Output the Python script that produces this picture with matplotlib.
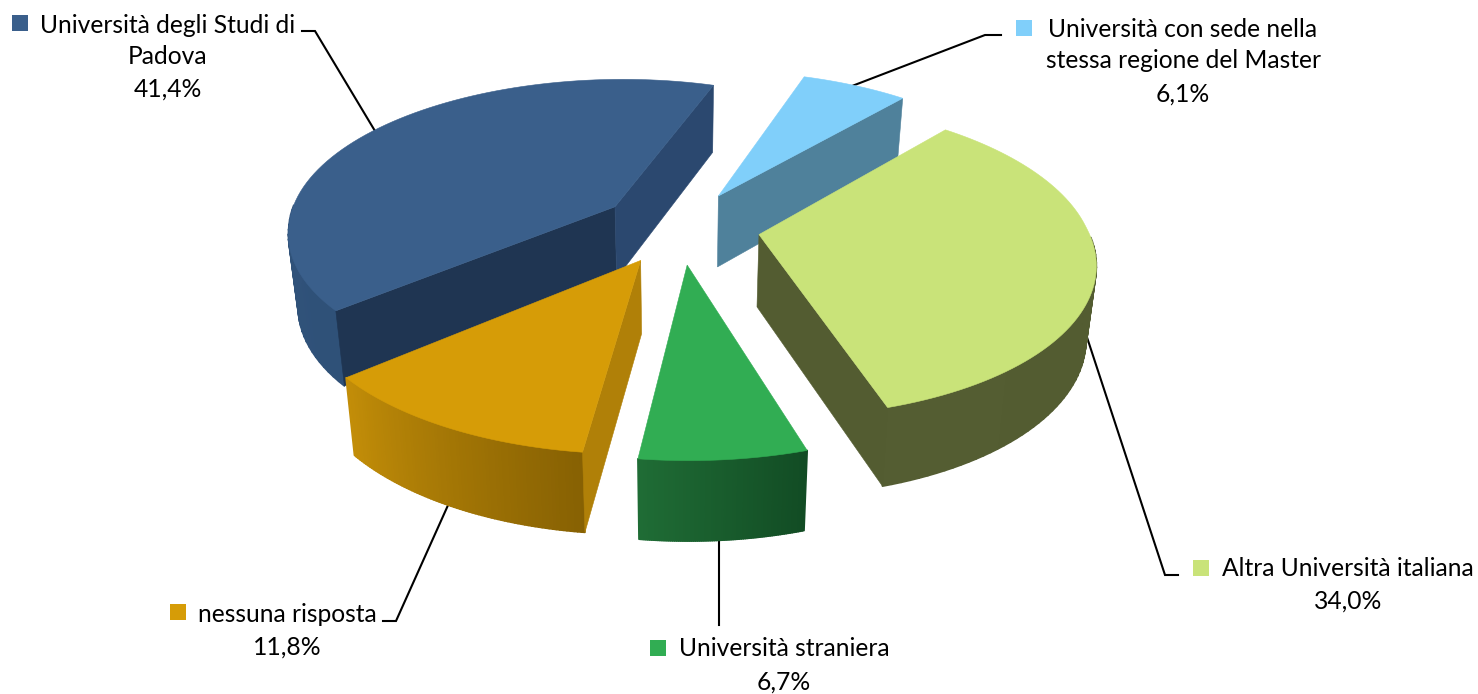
import numpy as np
import matplotlib
matplotlib.use("Agg")
import matplotlib.pyplot as plt
from matplotlib.collections import PolyCollection
from matplotlib.colors import to_rgb
from matplotlib.patches import Polygon, Rectangle

# ==== data ====
categories = ["Università degli Studi di\nPadova",
              "Università con sede nella\nstessa regione del Master",
              "Altra Università italiana",
              "Università straniera",
              "nessuna risposta"]
values = [41.4, 6.1, 34.0, 6.7, 11.8]

# ==== colours: top, start face, end face, outer side left/right ====
top_colors = ["#3A5F8B", "#80CFFA", "#C9E379", "#31AD53", "#D69C07"]
start_face = ["#1F3552", "#4F819B", "#535C31", "#1B6531", "#B08008"]
end_face = ["#2B486F", "#4F819B", "#535C31", "#1B6531", "#B08008"]
side_a = ["#2F5178", "#4F819B", "#515A2F", "#124C24", "#876103"]
side_b = ["#35567F", "#4F819B", "#545D32", "#1F6C35", "#C28D08"]

# ==== pie geometry (pixels) ====
CX, CY = 680, 227
R = 328
KY = 0.459       # tilt
PERSP_FAR = 0.14
PERSP_NEAR = 0.16
EXPLODE = 0.244
DEPTH = 72
BOTTOM_SCALE = 0.975
START_ANGLE = 229.6  # clockwise from the top, degrees


def project(dx, dy):
    # dx, dy: disk coordinates, dy > 0 is away from the viewer
    s = 1.0 / (1.0 + (PERSP_FAR if dy > 0 else PERSP_NEAR) * dy)
    return CX + R * dx * s, CY - R * KY * dy * s, s


def lower(x, y, s):
    return CX + (x - CX) * BOTTOM_SCALE, y + DEPTH * np.sqrt(s)


def blend(c1, c2, t):
    a, b = np.array(to_rgb(c1)), np.array(to_rgb(c2))
    return tuple(a + (b - a) * t)


def draw_slice(ax, a0, a1, i):
    mid = np.radians((a0 + a1) / 2)
    ox, oy = EXPLODE * np.sin(mid), EXPLODE * np.cos(mid)

    th = np.radians(np.linspace(a0, a1, 81))
    rim = [project(ox + np.sin(t), oy + np.cos(t)) for t in th]
    ax0, ay0, as0 = project(ox, oy)
    rim_low = [lower(*p) for p in rim]
    apex_low = lower(ax0, ay0, as0)

    # outer side, gradient along the arc (back part is hidden anyway)
    quads, cols = [], []
    for k in range(len(rim) - 1):
        if np.cos(th[k]) > 0:
            continue
        quads.append([rim[k][:2], rim[k + 1][:2], rim_low[k + 1], rim_low[k]])
        cols.append(blend(side_a[i], side_b[i], k / (len(rim) - 2)))
    if quads:
        ax.add_collection(PolyCollection(quads, facecolors=cols, edgecolors=cols, linewidths=1.2, zorder=2 + i * 0.01))

    # cut faces, only those turned to the viewer
    mx, my = rim[len(rim) // 2][:2]
    for k, col in ((0, start_face[i]), (-1, end_face[i])):
        px, py = rim[k][:2]
        ex, ey = px - ax0, py - ay0
        cross = ex * (my - ay0) - ey * (mx - ax0)
        if cross * ex < 0:
            ax.add_patch(Polygon([(ax0, ay0), (px, py), rim_low[k], apex_low],
                                 facecolor=col, edgecolor=col, linewidth=0.4, zorder=2.002 + i * 0.01))

    # top
    pts = [(ax0, ay0)] + [p[:2] for p in rim]
    ax.add_patch(Polygon(pts, facecolor=top_colors[i], edgecolor=top_colors[i], linewidth=0.4, zorder=2.005 + i * 0.01))


fig = plt.figure(figsize=(14.78, 6.94), dpi=100)
ax = fig.add_axes([0, 0, 1, 1])
ax.set_xlim(0, 1478)
ax.set_ylim(694, 0)
ax.axis("off")

# ==== leader lines ====
leaders = [[(375, 131), (315, 31), (302, 31)],
           [(852, 86), (985, 35), (1001, 35)],
           [(1080, 316), (1165, 575), (1178, 575)],
           [(719, 530), (719, 625)],
           [(449, 503), (396, 621), (383, 621)]]
for pts in leaders:
    xs, ys = zip(*pts)
    ax.plot(xs, ys, color="black", lw=1.5, zorder=1, solid_joinstyle="miter")

# ==== slices ====
spans = np.array(values) / sum(values) * 360
angle = START_ANGLE
bounds = []
for sp in spans:
    bounds.append((angle, angle + sp))
    angle += sp
for i in [1, 0, 2, 4, 3]:
    draw_slice(ax, bounds[i][0], bounds[i][1], i)

# ==== labels ====
FS = 17.7
key_pos = [(12, 15), (1016, 20), (1193, 560), (650, 640), (170, 604)]
name_pos = [(168, 41), (1183, 45), (1348, 569), (784, 649), (287, 614)]
pct_pos = [(168, 89), (1183, 94), (1348, 601), (784, 682), (287, 647)]
for i, cat in enumerate(categories):
    ax.add_patch(Rectangle(key_pos[i], 15.5, 15.5, facecolor=top_colors[i], edgecolor="none"))
    ax.text(name_pos[i][0], name_pos[i][1], cat, ha="center", va="center", fontsize=FS,
            family="Lato", linespacing=1.4, color="black")
    pct = f"{values[i]:.1f}%".replace(".", ",")
    ax.text(pct_pos[i][0], pct_pos[i][1], pct, ha="center", va="center", fontsize=FS,
            family="Lato", color="black")

fig.savefig("out.png", dpi=100)
